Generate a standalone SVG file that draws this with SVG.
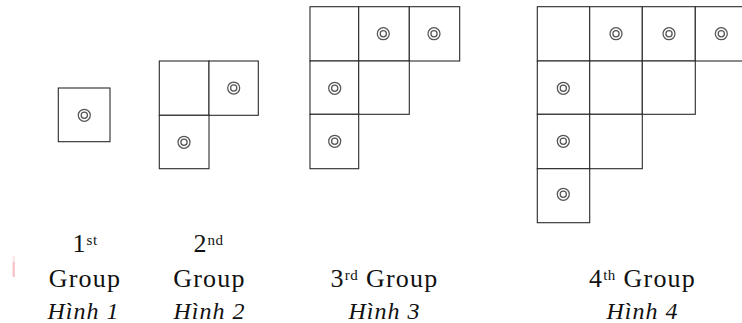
<svg xmlns="http://www.w3.org/2000/svg" width="742" height="323" viewBox="0 0 742 323">
<style>
.cell{fill:#fff;stroke:#2a2a2a;stroke-width:1.1}
.ring{fill:none;stroke:#555;stroke-width:1.25}
.lbl{font-family:"Liberation Serif","DejaVu Serif",serif;font-size:26px;letter-spacing:1.2px;fill:#111;text-anchor:middle}
.it{font-family:"Liberation Serif","DejaVu Serif",serif;font-size:24px;letter-spacing:1px;font-style:italic;fill:#111;text-anchor:middle}
.sup{font-size:15px;letter-spacing:0.5px}
</style>
<defs>
<g id="mark"><circle class="ring" r="6"/><circle class="ring" r="3.1"/></g>
</defs>
<rect width="742" height="323" fill="#fff"/>
<rect x="12.5" y="256" width="2.5" height="6" fill="#fde6e8"/>
<rect x="12.5" y="262" width="2.5" height="15" fill="#f9c6cb"/>
<g id="fig1">
<rect class="cell" x="58.3" y="88" width="51.7" height="53.7"/>
<use href="#mark" x="84.3" y="115.3"/>
</g>
<g id="fig2">
<rect class="cell" x="159.3" y="61" width="49.7" height="54.3"/>
<rect class="cell" x="209" y="61" width="49.3" height="54.3"/>
<rect class="cell" x="159.3" y="115.3" width="49.7" height="53.4"/>
<use href="#mark" x="233.7" y="88"/>
<use href="#mark" x="184" y="142.3"/>
</g>
<g id="fig3">
<rect class="cell" x="310" y="6.7" width="48.7" height="54.3"/>
<rect class="cell" x="358.7" y="6.7" width="50.6" height="54.3"/>
<rect class="cell" x="409.3" y="6.7" width="50.4" height="54.3"/>
<rect class="cell" x="310" y="61" width="48.7" height="53.3"/>
<rect class="cell" x="358.7" y="61" width="50.6" height="53.3"/>
<rect class="cell" x="310" y="114.3" width="48.7" height="54.4"/>
<use href="#mark" x="383.3" y="33.7"/>
<use href="#mark" x="434" y="33.7"/>
<use href="#mark" x="334.7" y="88.3"/>
<use href="#mark" x="334.7" y="141.3"/>
</g>
<g id="fig4">
<rect class="cell" x="537.3" y="6.7" width="52.4" height="54.3"/>
<rect class="cell" x="589.7" y="6.7" width="52.6" height="54.3"/>
<rect class="cell" x="642.3" y="6.7" width="53" height="54.3"/>
<rect class="cell" x="695.3" y="6.7" width="53" height="54.3"/>
<rect class="cell" x="537.3" y="61" width="52.4" height="53.3"/>
<rect class="cell" x="589.7" y="61" width="52.6" height="53.3"/>
<rect class="cell" x="642.3" y="61" width="53" height="53.3"/>
<rect class="cell" x="537.3" y="114.3" width="52.4" height="54.4"/>
<rect class="cell" x="589.7" y="114.3" width="52.6" height="54.4"/>
<rect class="cell" x="537.3" y="168.7" width="52.4" height="54"/>
<use href="#mark" x="616" y="33.7"/>
<use href="#mark" x="669" y="33.7"/>
<use href="#mark" x="721.3" y="33.7"/>
<use href="#mark" x="563.3" y="88.3"/>
<use href="#mark" x="563.3" y="141.3"/>
<use href="#mark" x="563.3" y="194.3"/>
</g>
<g id="labels">
<text class="lbl" x="85" y="252">1<tspan class="sup" dy="-7">st</tspan></text>
<text class="lbl" x="85" y="287">Group</text>
<text class="it" x="83.5" y="319">Hình 1</text>
<text class="lbl" x="208.5" y="252">2<tspan class="sup" dy="-7">nd</tspan></text>
<text class="lbl" x="209.5" y="287">Group</text>
<text class="it" x="209.5" y="319">Hình 2</text>
<text class="lbl" x="384.5" y="287">3<tspan class="sup" dy="-7">rd</tspan><tspan dy="7"> Group</tspan></text>
<text class="it" x="384.5" y="319">Hình 3</text>
<text class="lbl" x="642.5" y="287">4<tspan class="sup" dy="-7">th</tspan><tspan dy="7"> Group</tspan></text>
<text class="it" x="642.5" y="319">Hình 4</text>
</g>
</svg>
